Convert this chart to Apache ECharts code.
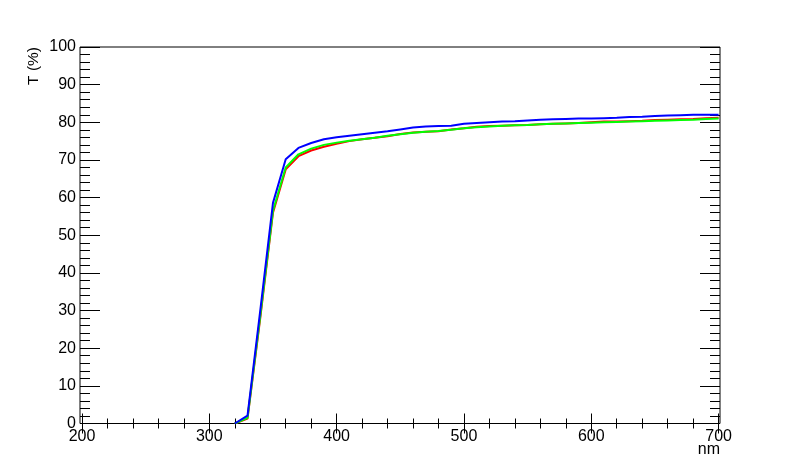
<!DOCTYPE html>
<html>
<head>
  <meta charset="UTF-8" />
  <title>T (%) vs nm</title>
  <script src="https://cdn.jsdelivr.net/npm/echarts@6/dist/echarts.min.js"></script>
  <style>
    body { margin: 0; background: #fff; }
    #chart { width: 800px; height: 472px; }
  </style>
</head>
<body>
  <div id="chart"></div>
  <script>
    // wavelength (nm) and transmission (%)
    const wavelength = [320, 330, 340, 350, 360, 370, 380, 390, 400, 410, 420, 430, 440, 450, 460, 470, 480, 490, 500,
      510, 520, 530, 540, 550, 560, 570, 580, 590, 600, 610, 620, 630, 640, 650, 660, 670, 680, 690, 700];
    const redT = [0, 1.3, 28, 56, 67.5, 71.0, 72.5, 73.5, 74.3, 75.0, 75.5, 75.9, 76.3, 76.9, 77.3, 77.5, 77.6, 78.1, 78.4,
      78.8, 79.0, 79.1, 79.2, 79.3, 79.5, 79.6, 79.7, 79.8, 80.0, 80.2, 80.2, 80.3, 80.4, 80.6, 80.7, 80.8, 80.9, 81.1, 81.2];
    const greenT = [0, 1.5, 28.5, 56.5, 68.0, 71.5, 73.0, 74.0, 74.6, 75.1, 75.5, 75.9, 76.4, 76.8, 77.2, 77.5, 77.7, 78.0, 78.4,
      78.7, 78.9, 79.1, 79.2, 79.3, 79.5, 79.6, 79.7, 79.8, 79.9, 80.0, 80.1, 80.2, 80.3, 80.4, 80.5, 80.6, 80.7, 80.9, 81.0];
    const blueT = [0, 2.1, 30, 58.6, 70.2, 73.2, 74.5, 75.5, 76.0, 76.4, 76.8, 77.2, 77.6, 78.1, 78.6, 78.9, 79.0, 79.1, 79.6,
      79.8, 80.0, 80.2, 80.3, 80.5, 80.7, 80.8, 80.9, 81.0, 81.0, 81.1, 81.2, 81.4, 81.5, 81.7, 81.8, 81.9, 82.0, 82.0, 82.0];

    const font = 'Liberation Sans, Arial, sans-serif';
    const chart = echarts.init(document.getElementById('chart'));

    function xAx(pos, labels) {
      return {
        type: 'value', gridIndex: 0, position: pos, min: 200, max: 700, interval: 100,
        axisLine: { show: false },
        axisTick: { show: true, inside: true, length: 10, lineStyle: { color: '#000' } },
        minorTick: { show: true, splitNumber: 5, length: 5, lineStyle: { color: '#000' } },
        splitLine: { show: false },
        axisLabel: { show: labels, color: '#000', fontSize: 16, fontFamily: font, margin: 5 }
      };
    }
    function yAx(pos, labels) {
      return {
        type: 'value', gridIndex: 0, position: pos, min: 0, max: 100, interval: 10,
        offset: pos === 'left' ? 2 : 1.4,
        axisLine: { show: false },
        axisTick: { show: true, inside: true, length: 20, lineStyle: { color: '#000' } },
        minorTick: { show: true, splitNumber: 5, length: 10, lineStyle: { color: '#000' } },
        splitLine: { show: false },
        axisLabel: { show: labels, color: '#000', fontSize: 16, fontFamily: font, margin: 4 }
      };
    }

    const xBottom = xAx('bottom', true);
    xBottom.name = 'nm';
    xBottom.nameLocation = 'end';
    xBottom.nameGap = 1.4;
    xBottom.nameMoveOverlap = false;
    xBottom.nameTextStyle = { color: '#000', fontSize: 16, fontFamily: font, align: 'right', verticalAlign: 'top', padding: [18, 0, 0, 0] };
    const yLeft = yAx('left', true);
    yLeft.name = 'T (%)';
    yLeft.nameLocation = 'end';
    yLeft.nameGap = 0;
    yLeft.nameRotate = 90;
    yLeft.nameMoveOverlap = false;
    yLeft.nameTextStyle = { color: '#000', fontSize: 15.5, fontFamily: font, align: 'right', verticalAlign: 'bottom', padding: [0, 0, 38, 0] };

    function line(data, color, z) {
      return {
        type: 'line', xAxisIndex: 0, yAxisIndex: 0, showSymbol: false, z: z,
        data: wavelength.map((w, i) => [w, data[i]]),
        lineStyle: { color: color, width: 2 }, itemStyle: { color: color }
      };
    }

    chart.setOption({
      animation: false,
      grid: [
        { left: 82, top: 47, width: 636.6, height: 376.5 },
        { left: 80, top: 47, width: 640, height: 376.5, show: true, borderColor: '#000', borderWidth: 1, backgroundColor: 'transparent' }
      ],
      xAxis: [xBottom, xAx('top', false), { type: 'value', gridIndex: 1, show: false, min: 0, max: 1 }],
      yAxis: [yLeft, yAx('right', false), { type: 'value', gridIndex: 1, show: false, min: 0, max: 1 }],
      series: [
        line(redT, '#ff0000', 2),
        line(greenT, '#00ff00', 3),
        line(blueT, '#0000ff', 4)
      ]
    });
  </script>
</body>
</html>
